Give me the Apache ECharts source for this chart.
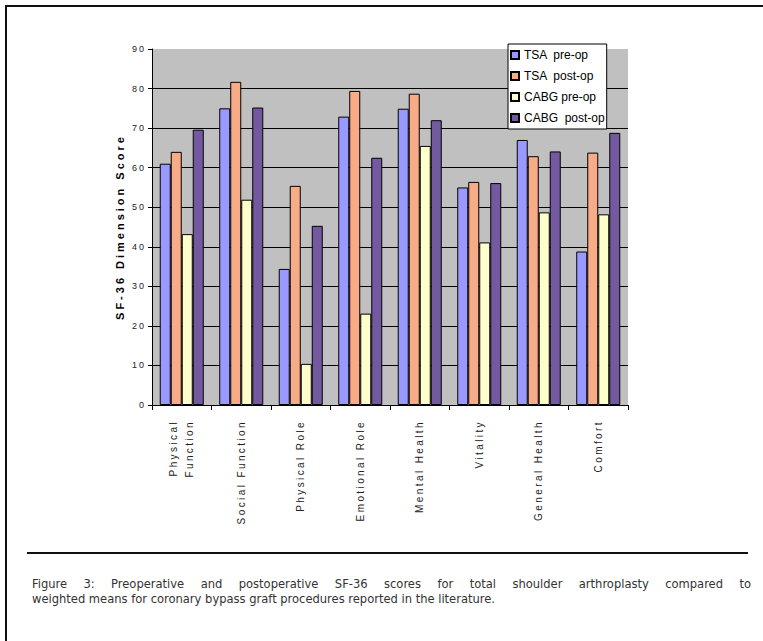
<!DOCTYPE html>
<html>
<head>
<meta charset="utf-8">
<script src="https://cdn.jsdelivr.net/npm/echarts@6/dist/echarts.min.js"></script>
<style>
  html, body { margin: 0; padding: 0; background: #fff; }
  body { width: 763px; height: 641px; position: relative; overflow: hidden; }
  #frame { position: absolute; left: 5px; top: 5px; right: -10px; bottom: -10px;
           border-top: 2px solid #111; border-left: 2px solid #111; }
  #rule { position: absolute; left: 27px; top: 552px; width: 721px; height: 2px; background: #111; }
  #chart { position: absolute; left: 0; top: 0; width: 763px; height: 641px; }
  #caption { position: absolute; left: 32px; top: 576px; width: 719px;
             font-family: "Liberation Sans Narrow", "DejaVu Sans Condensed", "Open Sans", sans-serif;
             font-size: 12.8px; line-height: 15px; color: #333; }
  #caption .l1 { text-align: justify; text-align-last: justify; white-space: nowrap; }
  #chart text { white-space: pre; }
  /* spaced-out axis lettering */
  #chart text[style*="10px"] { letter-spacing: 2.4px; }
  #chart text[style*="9px"] { letter-spacing: 2px; }
  #chart text[style*="11px"] { letter-spacing: 3px; }
</style>
</head>
<body>
<div id="frame"></div>
<div id="chart"></div>
<div id="rule"></div>
<div id="caption">
  <div class="l1">Figure 3: Preoperative and postoperative SF-36 scores for total shoulder arthroplasty compared to</div>
  <div>weighted means for coronary bypass graft procedures reported in the literature.</div>
</div>
<script>
// SF-36 dimensions
var categories = ['Physical\nFunction', 'Social Function', 'Physical Role', 'Emotional Role',
                  'Mental Health', 'Vitality', 'General Health', 'Comfort'];
var seriesNames = ['TSA  pre-op', 'TSA  post-op', 'CABG pre-op', 'CABG  post-op'];
// mean scores per dimension
var tsaPre   = [61.0, 75.0, 34.4, 72.9, 74.9, 55.0, 67.0, 38.8];
var tsaPost  = [64.0, 81.7, 55.4, 79.4, 78.7, 56.4, 62.9, 63.8];
var cabgPre  = [43.2, 51.9, 10.4, 23.1, 65.5, 41.1, 48.7, 48.2];
var cabgPost = [69.6, 75.2, 45.3, 62.5, 72.0, 56.1, 64.1, 68.8];
var yAxisTitle = 'SF-36 Dimension Score';

var colors = ['#9999FF', '#F7AB86', '#FFFFCC', '#735AA0'];
var values = [tsaPre, tsaPost, cabgPre, cabgPost];
var FONT = '"Liberation Sans", Arial, sans-serif';

var chart = echarts.init(document.getElementById('chart'), null, { renderer: 'svg' });

var series = values.map(function (v, i) {
  return {
    name: seriesNames[i],
    type: 'bar',
    data: v,
    barGap: '0%',
    barCategoryGap: '26%',
    itemStyle: { color: colors[i], borderColor: '#000', borderWidth: 1 }
  };
});

chart.setOption({
  animation: false,
  color: colors,
  grid: {
    left: 152, right: 135, top: 49, bottom: 236,
    show: true, backgroundColor: '#C0C0C0', borderWidth: 0
  },
  legend: {
    data: seriesNames,
    orient: 'vertical',
    left: 508, top: 44,
    icon: 'rect',
    itemWidth: 8, itemHeight: 8, itemGap: 7,
    padding: [4, 2, 4, 2],
    backgroundColor: '#fff', borderColor: '#000', borderWidth: 1,
    textStyle: { fontFamily: FONT, fontSize: 12, color: '#000', lineHeight: 14 }
  },
  xAxis: {
    type: 'category',
    data: categories,
    axisLine: { lineStyle: { color: '#000', width: 1 } },
    axisTick: { show: true, length: 5, interval: 0, lineStyle: { color: '#000' } },
    axisLabel: {
      interval: 0, rotate: 90, margin: 15,
      fontFamily: FONT, fontSize: 10, color: '#222', lineHeight: 16
    },
    splitLine: { show: false }
  },
  yAxis: {
    type: 'value',
    min: 0, max: 90, interval: 10,
    name: yAxisTitle,
    nameLocation: 'middle',
    nameGap: 27,
    nameTextStyle: { fontFamily: FONT, fontSize: 11, fontWeight: 'bold', color: '#000' },
    axisLine: { show: true, lineStyle: { color: '#000', width: 1 } },
    axisTick: { show: true, length: 4, lineStyle: { color: '#000' } },
    axisLabel: { fontFamily: FONT, fontSize: 9, color: '#222', margin: 6 },
    splitLine: { show: true, showMaxLine: false, lineStyle: { color: '#000', width: 1 } }
  },
  series: series
});
</script>
</body>
</html>
